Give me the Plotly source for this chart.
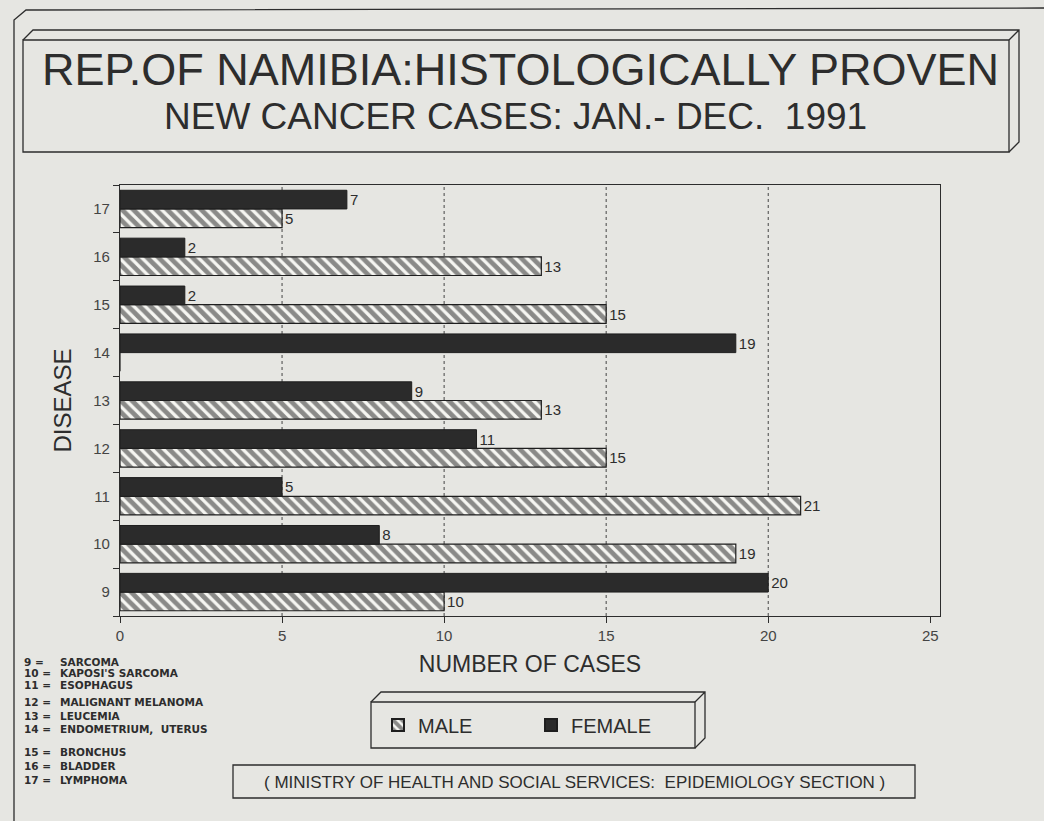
import plotly.graph_objects as go

# ---- data ----
categories = ["9", "10", "11", "12", "13", "14", "15", "16", "17"]
disease_names = ["SARCOMA", "KAPOSI'S SARCOMA", "ESOPHAGUS", "MALIGNANT MELANOMA",
                 "LEUCEMIA", "ENDOMETRIUM,  UTERUS", "BRONCHUS", "BLADDER", "LYMPHOMA"]
male = [10, 19, 21, 15, 13, 0, 15, 13, 5]
female = [20, 8, 5, 11, 9, 19, 2, 2, 7]
x_ticks = [0, 5, 10, 15, 20, 25]

title_line1 = "REP.OF NAMIBIA:HISTOLOGICALLY PROVEN"
title_line2 = "NEW CANCER CASES: JAN.- DEC.  1991"
footer = "( MINISTRY OF HEALTH AND SOCIAL SERVICES:  EPIDEMIOLOGY SECTION )"

# ---- layout geometry (pixels) ----
W, H = 1044, 821
ML, MR, MT, MB = 120, 104, 185, 205
PW, PH = W - ML - MR, H - MT - MB


def X(px):
    return (px - ML) / PW


def Y(py):
    return (H - MB - py) / PH


BG = "#e6e6e2"
INK = "#2d2d2d"
FONT = "Liberation Sans, Arial, sans-serif"
LISTFONT = "DejaVu Sans, Liberation Sans, sans-serif"

fig = go.Figure()
fig.add_trace(go.Bar(
    name="MALE", y=categories, x=male, orientation="h",
    text=[str(v) if v else "" for v in male], textposition="outside",
    textfont=dict(size=15, color=INK, family=FONT), cliponaxis=False,
    marker=dict(color="#f4f4f0", line=dict(color="#1e1e1e", width=1.2),
                pattern=dict(shape="\\", fgcolor="#1e1e1e", bgcolor="#f6f6f2",
                             size=8, solidity=0.6)),
))
fig.add_trace(go.Bar(
    name="FEMALE", y=categories, x=female, orientation="h",
    text=[str(v) if v else "" for v in female], textposition="outside",
    textfont=dict(size=15, color=INK, family=FONT), cliponaxis=False,
    marker=dict(color="#2b2b2b", line=dict(color="#1e1e1e", width=1)),
))


def box3d(x0, y0, x1, y1, d):
    front = dict(type="rect", xref="paper", yref="paper",
                 x0=X(x0), y0=Y(y0), x1=X(x1), y1=Y(y1),
                 line=dict(color=INK, width=1.3))
    path = (f"M {X(x0)},{Y(y0)} L {X(x0 + d)},{Y(y0 - d)} L {X(x1 + d)},{Y(y0 - d)} "
            f"L {X(x1 + d)},{Y(y1 - d)} L {X(x1)},{Y(y1)} "
            f"M {X(x1)},{Y(y0)} L {X(x1 + d)},{Y(y0 - d)}")
    side = dict(type="path", xref="paper", yref="paper", path=path,
                line=dict(color=INK, width=1.3))
    return [front, side]


shapes = []
# outer frame
shapes.append(dict(type="path", xref="paper", yref="paper",
                   path=f"M {X(14)},{Y(821)} L {X(14)},{Y(20)} L {X(26)},{Y(10)} L {X(1044)},{Y(8)}",
                   line=dict(color=INK, width=1.3)))
shapes += box3d(23, 40, 1009, 152, 10)
shapes += box3d(371, 702, 695, 748, 10)
shapes.append(dict(type="rect", xref="paper", yref="paper",
                   x0=X(233), y0=Y(765), x1=X(915), y1=Y(798),
                   line=dict(color=INK, width=1.3)))
# dotted vertical grid lines (interior ticks only)
for v in x_ticks[1:-1]:
    shapes.append(dict(type="line", xref="x", yref="paper", x0=v, x1=v, y0=0, y1=1,
                       line=dict(color="#444", width=1, dash="dot"), layer="below"))

annotations = [
    dict(text=title_line1, x=X(520), y=Y(70), xref="paper", yref="paper",
         xanchor="center", yanchor="middle",
         showarrow=False, font=dict(size=45, color=INK, family=FONT)),
    dict(text=title_line2, x=X(515), y=Y(117), xref="paper", yref="paper",
         xanchor="center", yanchor="middle",
         showarrow=False, font=dict(size=37, color=INK, family=FONT)),
    dict(text=footer, x=X(574), y=Y(782), xref="paper", yref="paper",
         xanchor="center", yanchor="middle",
         showarrow=False, font=dict(size=17, color=INK, family=FONT)),
]
list_y = [662, 673, 685, 702, 716, 729, 752, 766, 780]
for cat, name, py in zip(categories, disease_names, list_y):
    annotations.append(dict(text=f"<b>{cat} =</b>", x=X(22), y=Y(py), xref="paper", yref="paper",
                            xanchor="left", yanchor="middle", showarrow=False,
                            font=dict(size=10.5, color=INK, family=LISTFONT)))
    annotations.append(dict(text=f"<b>{name}</b>", x=X(58), y=Y(py), xref="paper", yref="paper",
                            xanchor="left", yanchor="middle", showarrow=False,
                            font=dict(size=10.5, color=INK, family=LISTFONT)))

fig.update_layout(
    width=W, height=H,
    margin=dict(l=ML, r=MR, t=MT, b=MB, autoexpand=False),
    paper_bgcolor=BG, plot_bgcolor=BG,
    barmode="group", bargap=0.22, bargroupgap=0.0,
    font=dict(family=FONT, color=INK),
    showlegend=True,
    legend=dict(orientation="h", x=X(378), xanchor="left", y=Y(725), yanchor="middle",
                font=dict(size=20, color=INK, family=FONT), bgcolor="rgba(0,0,0,0)",
                traceorder="normal", entrywidth=108, itemsizing="constant"),
    xaxis=dict(range=[0, 25.3], tickvals=x_ticks, ticks="outside", ticklen=6,
               tickcolor=INK, tickfont=dict(size=15, color="#444"),
               showgrid=False,
               showline=True, linecolor=INK, linewidth=1.3, mirror=True, zeroline=False,
               title=dict(text="NUMBER OF CASES", font=dict(size=23, color=INK), standoff=12)),
    yaxis=dict(type="category", categoryorder="array", categoryarray=categories,
               ticks="outside", tickson="boundaries", ticklen=6, tickcolor=INK,
               ticklabelstandoff=6,
               tickfont=dict(size=15, color="#444"), showgrid=False,
               showline=True, linecolor=INK, linewidth=1.3, mirror=True,
               title=dict(text="DISEASE", font=dict(size=24, color=INK), standoff=14)),
    shapes=shapes, annotations=annotations,
)

fig.write_html("out.html", config={"displayModeBar": False},
               post_script="document.body.style.margin='0';document.body.style.overflow='hidden';")
